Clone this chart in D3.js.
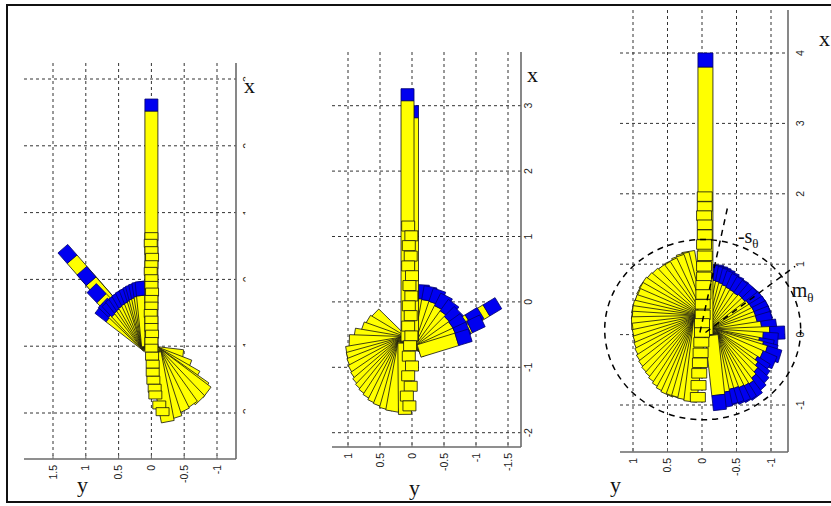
<!DOCTYPE html>
<html>
<head>
<meta charset="utf-8">
<script src="https://cdn.jsdelivr.net/npm/d3@7"></script>
<style>
body { margin: 0; background: #fff; }
svg { display: block; }
.grid line { stroke: #333; stroke-width: 1; stroke-dasharray: 3,3; }
.axis line { stroke: #6a6a6a; stroke-width: 1.6; }
.tick text { font-family: "Liberation Sans", Arial, sans-serif; font-size: 10.5px; fill: #222; }
.lab { font-family: "Liberation Serif", "Times New Roman", serif; font-size: 22px; fill: #111; }
.yel { fill: #ffff00; stroke: #111; stroke-width: 0.8; stroke-linejoin: round; }
.blu { fill: #0000f0; stroke: #00006a; stroke-width: 0.8; }
.dash { fill: none; stroke: #000; stroke-width: 1.5; stroke-dasharray: 6,5; }
</style>
</head>
<body>
<div id="chart"></div>
<script>
// ---- panel 1 ----
var p1HTicks = [1.5, 1, 0.5, 0, -0.5, -1]
var p1HLabels = ["1.5", "1", "0.5", "0", "-0.5", "-1"]
var p1VTicks = [3, 2, 1, 0, -1, -2]
var p1VLabels = ["3", "2", "1", "0", "-1", "-2"]
var p1Stem = [[-1.0, 0.0], [2.70, 0.0]]
var p1Stack = [[0.64,0],[0.54,0.01],[0.43,0],[0.33,-0.01],[0.22,0],[0.12,0.01],[0.01,0],[-0.09,0],
  [-0.19,-0.01],[-0.30,0],[-0.40,0],[-0.51,0.01],[-0.61,0],[-0.72,0],[-0.82,-0.01],[-0.93,0],[-1.03,0],
  [-1.15,-0.01],[-1.27,-0.02],[-1.39,-0.02],[-1.51,-0.03],[-1.63,-0.05],[-1.73,-0.06],[-1.88,-0.12],[-1.98,-0.17]]
var p1UpPivot = [-1.0, 0.05]
var p1UpTips = [[0.46,1.35],[0.13,1.06],[-0.13,0.91],[-0.43,0.80],[-0.35,0.74],[-0.34,0.68],[-0.28,0.62],
  [-0.24,0.57],[-0.20,0.52],[-0.16,0.46],[-0.13,0.40],[-0.10,0.34],[-0.08,0.30],[-0.06,0.25],[-0.04,0.20],[-0.03,0.15]]
var p1DownPivot = [-1.1, -0.05]
var p1DownTips = [[-1.15,-0.48],[-1.30,-0.58],[-1.46,-0.69],[-1.63,-0.82],[-1.69,-0.85],[-1.81,-0.74],
  [-1.88,-0.62],[-1.97,-0.49],[-2.07,-0.37],[-2.13,-0.25]]

// ---- panel 2 ----
var p2HTicks = [1, 0.5, 0, -0.5, -1, -1.5]
var p2HLabels = ["1", "0.5", "0", "-0.5", "-1", "-1.5"]
var p2VTicks = [3, 2, 1, 0, -1, -2]
var p2VLabels = ["3", "2", "1", "0", "-1", "-2"]
var p2Stem2 = [[-0.6, 0.0], [3.0, 0.0]]
var p2Stem = [[-0.6, 0.07], [3.26, 0.07]]
var p2Stack = [[1.16,0.06],[1.01,0.01],[0.86,0.05],[0.70,0.02],[0.55,0.06],[0.40,0.0],[0.25,0.04],[0.09,0.01],
  [-0.06,0.05],[-0.21,0.02],[-0.37,0.06],[-0.52,0.01],[-0.67,0.03],[-0.83,0.05],[-0.98,0.0],[-1.13,0.06],
  [-1.29,0.02],[-1.44,0.08],[-1.59,0.04]]
var p2LeftPivot = [-0.63, 0.12]
var p2LeftTips = [[-0.18,0.59],[-0.29,0.70],[-0.40,0.78],[-0.50,0.90],[-0.60,0.98],[-0.78,1.02],[-0.87,1.00],
  [-0.96,0.98],[-1.06,0.95],[-1.16,0.90],[-1.25,0.86],[-1.33,0.81],[-1.40,0.75],[-1.47,0.68],[-1.54,0.60],
  [-1.59,0.51],[-1.64,0.41],[-1.67,0.31],[-1.72,0.11]]
var p2RightPivot = [-0.75, -0.11]
var p2RightTips = [[-0.02,-1.35],[-0.17,-1.07],[-0.29,-1.10],[0.26,-0.17],[0.23,-0.29],[0.18,-0.43],[0.09,-0.54],
  [-0.02,-0.65],[-0.14,-0.73],[-0.26,-0.81],[-0.40,-0.88],[-0.51,-0.91]]

// ---- panel 3 ----
var p3HTicks = [1, 0.5, 0, -0.5, -1]
var p3HLabels = ["1", "0.5", "0", "-0.5", "-1"]
var p3VTicks = [4, 3, 2, 1, 0, -1]
var p3VLabels = ["4", "3", "2", "1", "0", "-1"]
var p3Stem = [[0.0, -0.05], [4.0, -0.05]]
var p3Stack = [[1.96,-0.04],[1.82,-0.04],[1.69,-0.03],[1.56,-0.04],[1.42,-0.04],[1.28,-0.03],[1.12,-0.04],
  [0.97,-0.03],[0.82,-0.03],[0.70,-0.02],[0.57,-0.02],[0.43,-0.01],[0.28,-0.01],[0.16,0.0],[0.03,0.0],
  [-0.11,0.01],[-0.26,0.02],[-0.40,0.03],[-0.55,0.04],[-0.72,0.05],[-0.89,0.06]]
var p3LeftPivot = [0.18, 0.03]
var p3LeftTips = [[1.18,0.20],[1.15,0.28],[1.11,0.35],[1.05,0.45],[0.99,0.54],[0.94,0.62],[0.88,0.71],[0.81,0.79],
  [0.74,0.86],[0.66,0.90],[0.57,0.93],[0.48,0.97],[0.40,1.00],[0.32,1.01],[0.24,1.01],[0.16,1.02],[0.07,1.00],
  [-0.02,0.99],[-0.11,0.97],[-0.20,0.95],[-0.28,0.93],[-0.37,0.90],[-0.45,0.86],[-0.53,0.81],[-0.60,0.75],
  [-0.67,0.70],[-0.74,0.64],[-0.80,0.58],[-0.85,0.51],[-0.87,0.43],[-0.89,0.35],[-0.92,0.26],[-0.95,0.17]]
var p3RightPivot = [-0.01, -0.14]
var p3RightTips = [[0.99,-0.22],[0.97,-0.28],[0.95,-0.33],[0.92,-0.39],[0.88,-0.45],[0.83,-0.52],[0.78,-0.59],
  [0.72,-0.66],[0.67,-0.74],[0.60,-0.80],[0.54,-0.87],[0.47,-0.92],[0.40,-0.96],[0.32,-0.99],[0.24,-1.01],
  [0.13,-1.08],[0.03,-1.20],[-0.07,-1.10],[-0.17,-1.03],[-0.24,-1.08],[-0.31,-1.13],[-0.40,-1.05],[-0.50,-0.94],
  [-0.59,-0.93],[-0.68,-0.91],[-0.78,-0.86],[-0.88,-0.80],[-0.92,-0.71],[-0.95,-0.62],[-0.97,-0.52],
  [-0.99,-0.43],[-1.03,-0.35],[-1.07,-0.26]]
var p3Circle = { center: [0.07, -0.01], rx: 1.28, ry: 1.42 }
var p3SLine = [[0.03, 0.03], [1.85, -0.38]]
var p3MLine = [[0.03, -0.05], [0.97, -1.35]]
var p3SLabelAt = [1.30, -0.52]
var p3MLabelAt = [0.53, -1.30]

var W = 831, H = 506

var svg = d3.select("#chart").append("svg")
  .attr("width", W)
  .attr("height", H)

svg.append("rect")
  .attr("x", 7).attr("y", 5)
  .attr("width", 840).attr("height", 497)
  .attr("fill", "#fff").attr("stroke", "#111").attr("stroke-width", 2)

var defs = svg.append("defs")
defs.append("clipPath").attr("id", "cut1")
  .append("rect").attr("x", 0).attr("y", 0).attr("width", 245.5).attr("height", H)

// draws one bar from p0 to p1 (pixel space), optional blue end of given length
function drawBar(g, p0, p1, w, blue) {
  var dx = p1[0] - p0[0], dy = p1[1] - p0[1]
  var len = Math.hypot(dx, dy)
  var ux = dx / len, uy = dy / len
  var nx = -uy * w / 2, ny = ux * w / 2
  var b = Math.min(blue || 0, len)
  var m = [p1[0] - ux * b, p1[1] - uy * b]
  var quad = (a, c) => [[a[0]+nx, a[1]+ny], [c[0]+nx, c[1]+ny], [c[0]-nx, c[1]-ny], [a[0]-nx, a[1]-ny]]
  g.append("polygon").attr("class", "yel").attr("points", quad(p0, b ? m : p1).join(" "))
  if (b) g.append("polygon").attr("class", "blu").attr("points", quad(m, p1).join(" "))
}

function makePanel(cfg) {
  var hs = d3.scaleLinear().domain(cfg.hDomain).range(cfg.hRange)
  var vs = d3.scaleLinear().domain(cfg.vDomain).range(cfg.vRange)
  var px = (d) => [hs(d[1]), vs(d[0])]
  var box = cfg.box
  var g = svg.append("g")

  var grid = g.append("g").attr("class", "grid")
  grid.selectAll(".gv").data(cfg.hTicks).enter().append("line")
    .attr("x1", hs).attr("x2", hs)
    .attr("y1", box.top).attr("y2", box.bottom)
  grid.selectAll(".gh").data(cfg.vTicks).enter().append("line")
    .attr("y1", vs).attr("y2", vs)
    .attr("x1", box.left).attr("x2", box.right)

  var ax = g.append("g").attr("class", "axis")
  ax.append("line").attr("x1", box.right).attr("x2", box.right).attr("y1", box.top).attr("y2", box.bottom)
  ax.append("line").attr("x1", box.left).attr("x2", box.right).attr("y1", box.bottom).attr("y2", box.bottom)
  ax.selectAll(".tk").data(cfg.hTicks).enter().append("line")
    .attr("x1", hs).attr("x2", hs)
    .attr("y1", box.bottom).attr("y2", box.bottom - 4)
    .style("stroke-width", 1)

  var bt = g.append("g").attr("class", "tick")
  bt.selectAll("text").data(cfg.hTicks).enter().append("text")
    .attr("transform", (d) => "translate(" + hs(d) + "," + (box.bottom + 6) + ") rotate(-90)")
    .attr("text-anchor", "end")
    .attr("dy", "0.35em")
    .text((d, i) => cfg.hLabels[i])

  var rt = g.append("g").attr("class", "tick")
  if (cfg.clip) rt.attr("clip-path", "url(#" + cfg.clip + ")")
  rt.selectAll("text").data(cfg.vTicks).enter().append("text")
    .attr("transform", (d) => "translate(" + (box.right + cfg.rOff) + "," + vs(d) + ") rotate(-90)")
    .attr("text-anchor", "middle")
    .attr("dy", "0.35em")
    .text((d, i) => cfg.vLabels[i])

  g.append("text").attr("class", "lab")
    .attr("x", cfg.xLab[0]).attr("y", cfg.xLab[1]).text("x")
  g.append("text").attr("class", "lab")
    .attr("x", cfg.yLab[0]).attr("y", cfg.yLab[1]).text("y")

  var bars = g.append("g")
  cfg.fans.forEach(function (f) {
    f.tips.forEach(function (t) {
      drawBar(bars, px(f.pivot), px(t), cfg.bw, f.blue)
    })
  })
  cfg.stems.forEach(function (s) {
    drawBar(bars, px(s[0]), px(s[1]), cfg.sw, cfg.sw - 1)
  })
  cfg.stack.forEach(function (s) {
    var c = px(s)
    bars.append("rect").attr("class", "yel")
      .attr("x", c[0] - cfg.sw / 2).attr("y", c[1] - cfg.sh / 2)
      .attr("width", cfg.sw).attr("height", cfg.sh)
  })
  return { g: g, hs: hs, vs: vs, px: px }
}

makePanel({
  hDomain: [1.5, -1], hRange: [53, 217],
  vDomain: [3, -2], vRange: [79, 413],
  box: { left: 24, right: 236, top: 63, bottom: 459 },
  hTicks: p1HTicks, hLabels: p1HLabels, vTicks: p1VTicks, vLabels: p1VLabels,
  rOff: 11, clip: "cut1",
  xLab: [244, 93], yLab: [77, 492],
  bw: 13, sw: 13, sh: 8,
  fans: [
    { pivot: p1DownPivot, tips: p1DownTips, blue: 0 },
    { pivot: p1UpPivot, tips: p1UpTips, blue: 14 }
  ],
  stems: [p1Stem],
  stack: p1Stack
})

makePanel({
  hDomain: [1, -1.5], hRange: [348, 508],
  vDomain: [3, -2], vRange: [105.7, 432.7],
  box: { left: 332, right: 521, top: 52, bottom: 447 },
  hTicks: p2HTicks, hLabels: p2HLabels, vTicks: p2VTicks, vLabels: p2VLabels,
  rOff: 7,
  xLab: [527, 82], yLab: [409, 495],
  bw: 13, sw: 13, sh: 10,
  fans: [
    { pivot: p2RightPivot, tips: p2RightTips, blue: 14 },
    { pivot: p2LeftPivot, tips: p2LeftTips, blue: 0 }
  ],
  stems: [p2Stem2, p2Stem],
  stack: p2Stack
})

var p3 = makePanel({
  hDomain: [1, -1], hRange: [633, 771],
  vDomain: [4, -1], vRange: [53, 405],
  box: { left: 620, right: 788, top: 10, bottom: 452 },
  hTicks: p3HTicks, hLabels: p3HLabels, vTicks: p3VTicks, vLabels: p3VLabels,
  rOff: 12,
  xLab: [819, 46], yLab: [610, 492],
  bw: 13, sw: 15, sh: 9.5,
  fans: [
    { pivot: p3LeftPivot, tips: p3LeftTips, blue: 0 },
    { pivot: p3RightPivot, tips: p3RightTips, blue: 15 }
  ],
  stems: [p3Stem],
  stack: p3Stack
})

// circular mean / spread markers
var cc = p3.px(p3Circle.center)
p3.g.append("ellipse").attr("class", "dash")
  .attr("cx", cc[0]).attr("cy", cc[1])
  .attr("rx", Math.abs(p3.hs(p3Circle.ry) - p3.hs(0)))
  .attr("ry", Math.abs(p3.vs(p3Circle.rx) - p3.vs(0)))
;[p3SLine, p3MLine].forEach(function (l) {
  var a = p3.px(l[0]), b = p3.px(l[1])
  p3.g.append("line").attr("class", "dash")
    .attr("x1", a[0]).attr("y1", a[1]).attr("x2", b[0]).attr("y2", b[1])
})

var sl = p3.px(p3SLabelAt)
var st = p3.g.append("text").attr("class", "lab").style("font-size", "20px")
  .attr("x", sl[0]).attr("y", sl[1])
st.append("tspan").text("-s")
st.append("tspan").attr("dy", 5).style("font-size", "13px").text("θ")

var ml = p3.px(p3MLabelAt)
var mt = p3.g.append("text").attr("class", "lab").style("font-size", "20px")
  .attr("x", ml[0]).attr("y", ml[1])
mt.append("tspan").text("m")
mt.append("tspan").attr("dy", 5).style("font-size", "13px").text("θ")
</script>
</body>
</html>
